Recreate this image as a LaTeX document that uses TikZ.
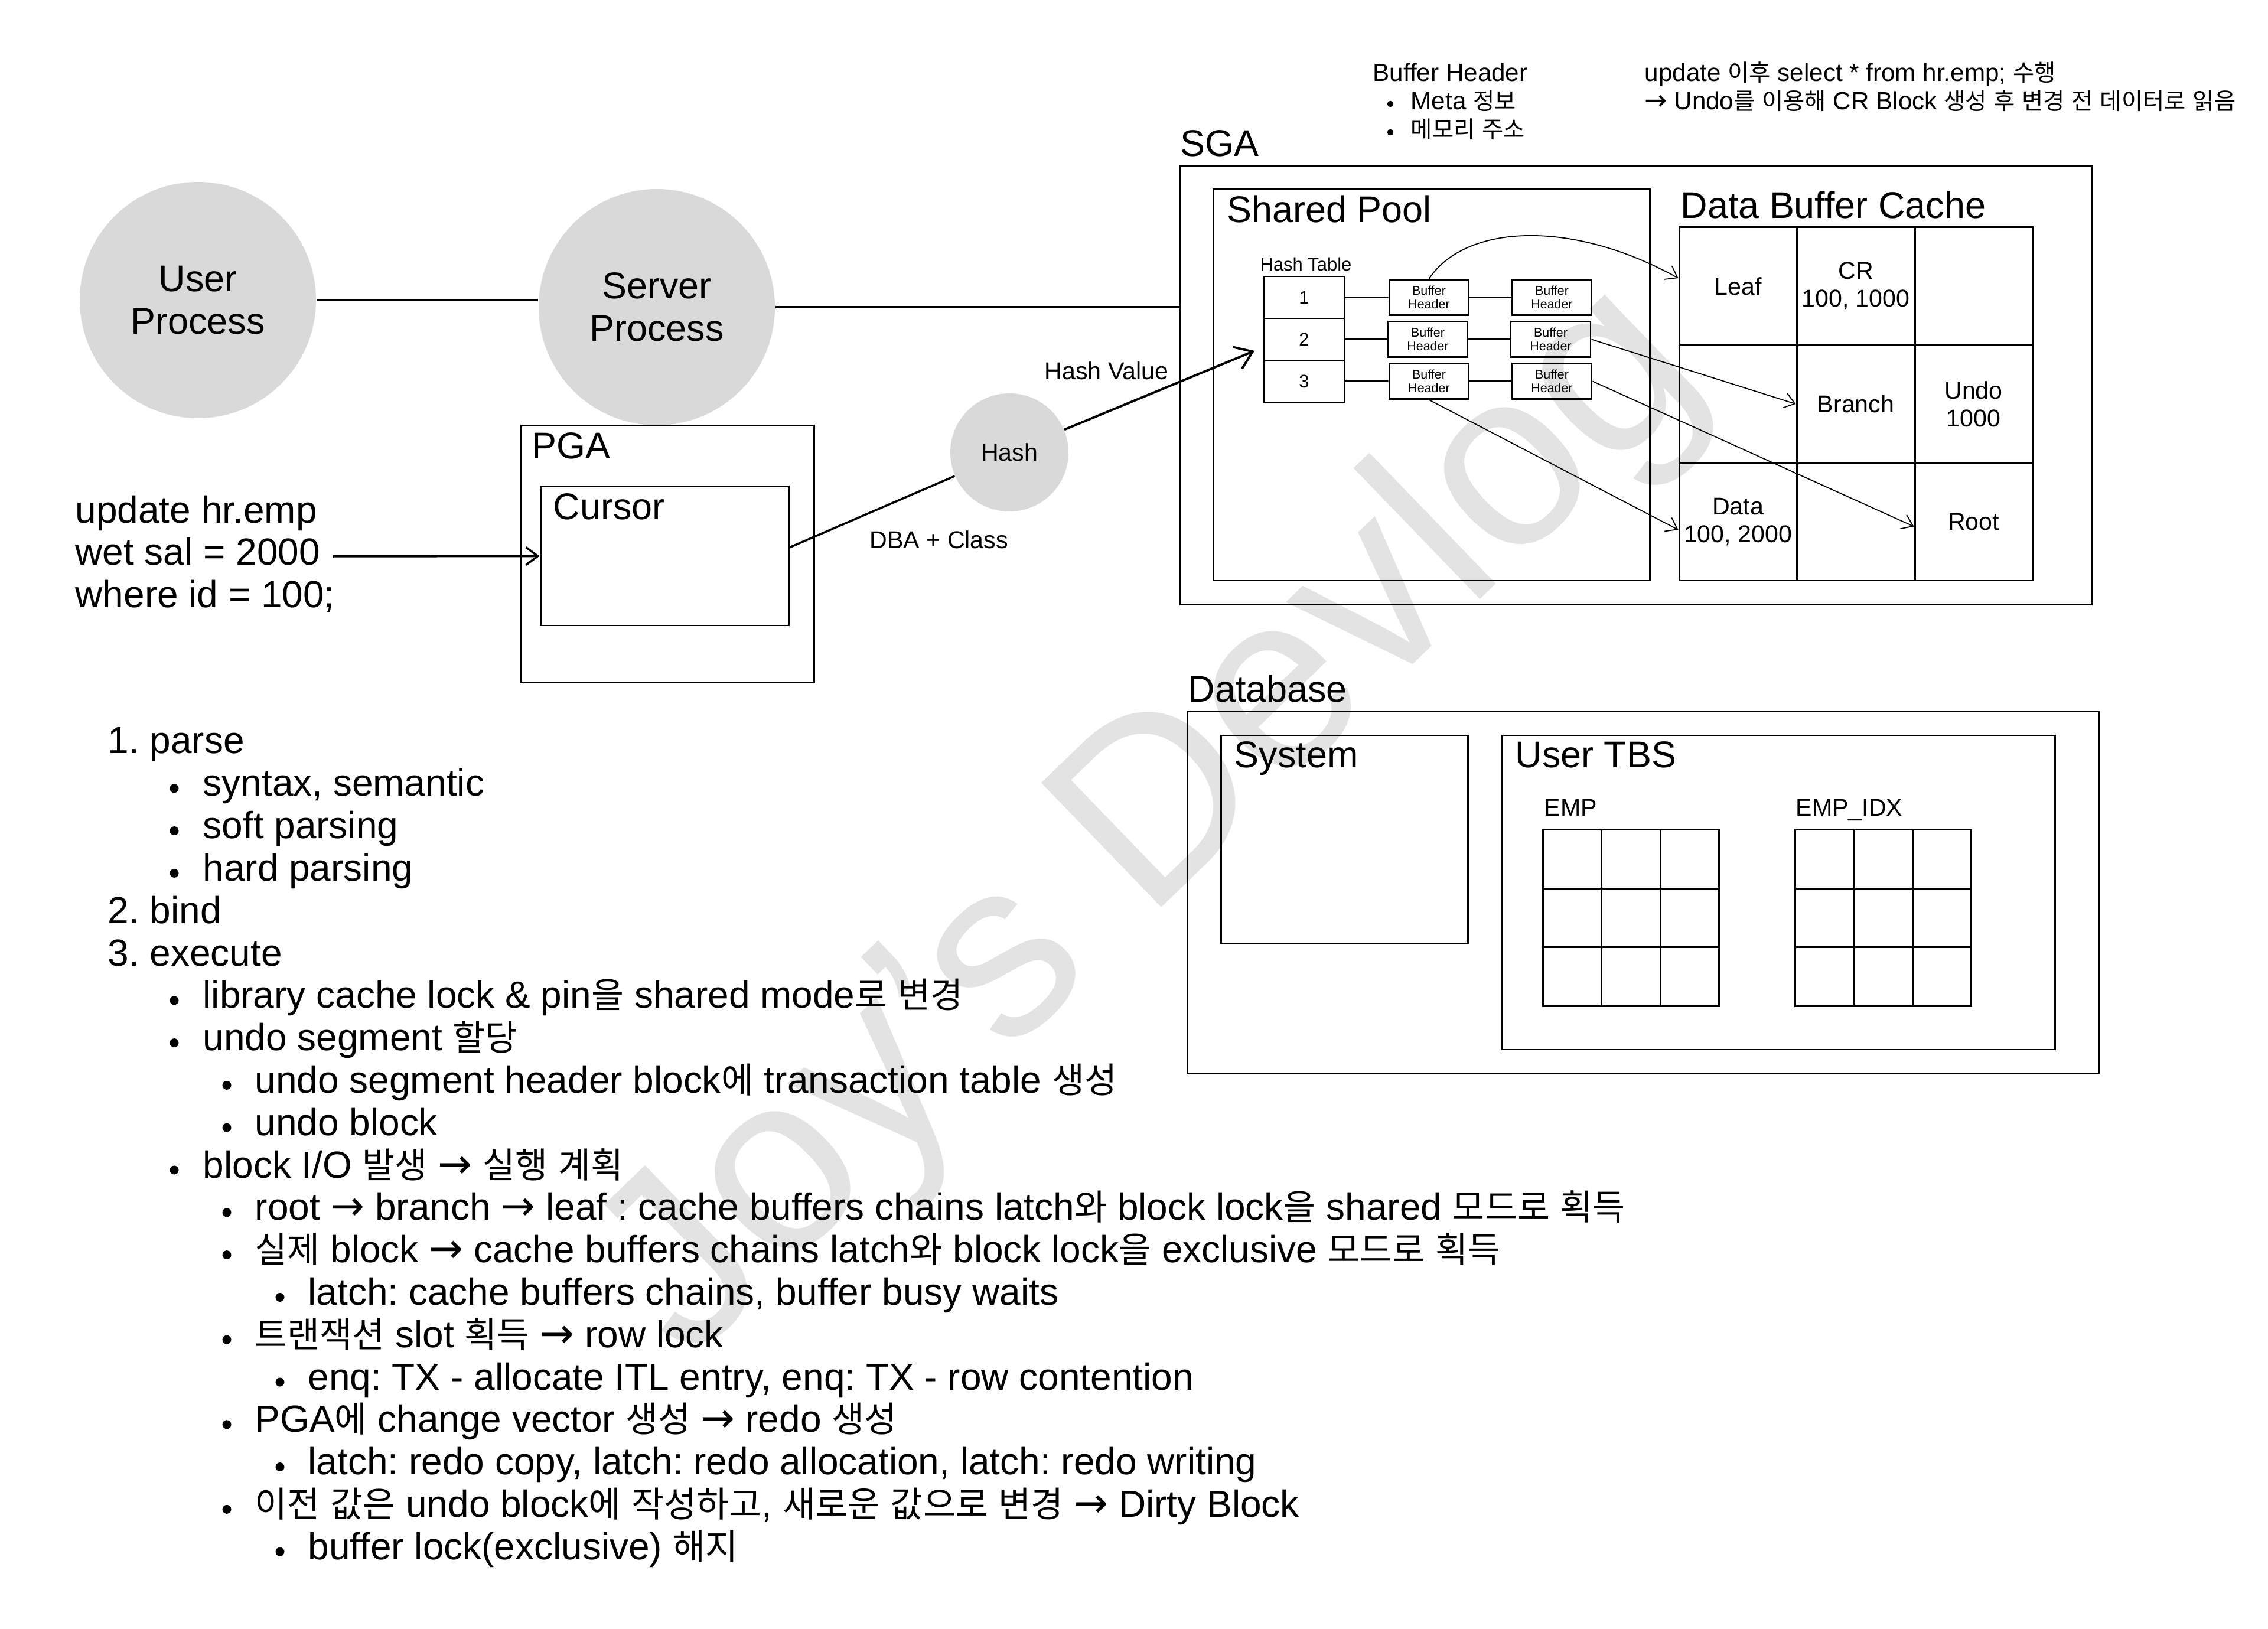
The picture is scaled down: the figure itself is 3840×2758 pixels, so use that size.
\documentclass[tikz,border=0pt]{standalone}
\usepackage{fontspec}
\setmainfont{Liberation Sans}
\newfontfamily\latinfont{Liberation Sans}
\newfontfamily\krfont{Noto Sans CJK KR}[Scale=0.935]
\newfontfamily\arrfont{DejaVu Sans}[Scale=1.08]
\usetikzlibrary{fit,arrows.meta}
\XeTeXinterchartokenstate=1
\newXeTeXintercharclass\KRclass
\newXeTeXintercharclass\ARclass
\count255="AC00
\loop
  \XeTeXcharclass\count255=\KRclass
  \ifnum\count255<"D7A3
  \advance\count255 by 1
\repeat
\XeTeXcharclass"2192=\ARclass
\XeTeXinterchartoks 0 \KRclass = {\krfont}
\XeTeXinterchartoks 4095 \KRclass = {\krfont}
\XeTeXinterchartoks \KRclass 0 = {\latinfont}
\XeTeXinterchartoks \KRclass 4095 = {\latinfont}
\XeTeXinterchartoks 0 \ARclass = {\arrfont}
\XeTeXinterchartoks 4095 \ARclass = {\arrfont}
\XeTeXinterchartoks \KRclass \ARclass = {\arrfont}
\XeTeXinterchartoks \ARclass \KRclass = {\krfont}
\XeTeXinterchartoks \ARclass 0 = {\latinfont}
\XeTeXinterchartoks \ARclass 4095 = {\latinfont}
\definecolor{procgray}{HTML}{D9D9D9}
\definecolor{wmgray}{HTML}{E3E3E3}
\newcommand\ListNum[2]{\node[listtxt,anchor=base west] (li#1) at (182,{1276+71.8*#1}) {#2};}
\newcommand\ListA[2]{\node[bul] (bu#1) at (295,{1263+71.8*#1}) {};\node[listtxt,anchor=base west] (li#1) at (343,{1276+71.8*#1}) {#2};}
\newcommand\ListB[2]{\node[bul] (bu#1) at (384,{1263+71.8*#1}) {};\node[listtxt,anchor=base west] (li#1) at (431,{1276+71.8*#1}) {#2};}
\newcommand\ListC[2]{\node[bul] (bu#1) at (474,{1263+71.8*#1}) {};\node[listtxt,anchor=base west] (li#1) at (521,{1276+71.8*#1}) {#2};}
\begin{document}
\frenchspacing
\begin{tikzpicture}[x=0.1mm, y=-0.1mm,
  box/.style={draw, line width=0.85pt, inner sep=0pt},
  cellbox/.style={draw, line width=0.85pt, inner sep=0pt},
  celltxt/.style={font=\fontsize{11.7pt}{13.4pt}\selectfont, align=center, inner sep=0pt},
  bhbox/.style={draw, line width=0.8pt, inner sep=0pt},
  bhtxt/.style={font=\fontsize{6.1pt}{6.6pt}\selectfont, align=center, inner sep=0pt},
  htbox/.style={draw, line width=0.8pt, inner sep=0pt},
  big/.style={font=\fontsize{17.9pt}{20.5pt}\selectfont, inner sep=0pt},
  listtxt/.style={font=\fontsize{18.2pt}{20.5pt}\selectfont, inner sep=0pt},
  small/.style={font=\fontsize{11.7pt}{13.7pt}\selectfont, inner sep=0pt},
  notetxt/.style={font=\fontsize{12pt}{13.7pt}\selectfont, inner sep=0pt},
  httxt/.style={font=\fontsize{8.8pt}{10pt}\selectfont, inner sep=0pt},
  proc/.style={circle, fill=procgray, minimum size=40mm, inner sep=0pt, align=center, font=\fontsize{17.9pt}{20.5pt}\selectfont},
  conn/.style={line width=1pt},
  thinarrow/.style={-{Straight Barb[length=1.8mm,width=2.6mm]}, line width=0.5pt},
  bul/.style={circle, fill=black, inner sep=0pt, minimum size=1.5mm},
  sbul/.style={circle, fill=black, inner sep=0pt, minimum size=1.05mm},
]
\useasboundingbox (0,0) rectangle (3840,2758);
\fill[white] (0,0) rectangle (3840,2758);
% watermark
\node[rotate=44, anchor=base, text=wmgray, font=\fontsize{121pt}{130pt}\selectfont, inner sep=0pt] (wm) at (2030,1475) {Joy's Devlog};

% processes
\node[proc] (user) at (335,508) {User\\Process};
\node[proc] (server) at (1112,520) {Server\\Process};
\draw[conn] (user.east) -- (user.east -| server.west);

% PGA
\node[box, fit={(882,721) (1378,1155)}] (pga) {};
\node[big, anchor=base west] (pgal) at (900,777) {PGA};
\node[box, fit={(915,824) (1335,1059)}] (cursor) {};
\node[big, anchor=base west] (cursorl) at (936,880) {Cursor};

% SQL
\node[listtxt, anchor=base west] (sql1) at (127,886) {update hr.emp};
\node[listtxt, anchor=base west] (sql2) at (127,957) {wet sal = 2000};
\node[listtxt, anchor=base west] (sql3) at (127,1029) {where id = 100;};
\coordinate (sqlstart) at (564,942);
\draw[conn, -{Straight Barb[length=2mm,width=3mm]}] (sqlstart) -- (cursor.west);

% Hash
\node[circle, fill=procgray, minimum size=20mm, inner sep=0pt, font=\fontsize{11.7pt}{13.7pt}\selectfont] (hash) at (1709,766) {Hash};
\draw[conn] ([yshift=1.45mm]cursor.east) -- (hash);
\coordinate (hv) at (2124,594);
\draw[line width=1.1pt, -{Straight Barb[length=2.8mm,width=4mm]}] (hash) -- (hv);
\node[small, anchor=base west] (hvl) at (1768,643) {Hash Value};
\node[small, anchor=base west] (dbal) at (1472,929) {DBA + Class};

% top notes
\node[notetxt, anchor=base west] (bhn) at (2324,138) {Buffer Header};
\node[sbul] (bhb1) at (2354,176) {};
\node[notetxt, anchor=base west] (bht1) at (2388,186) {Meta 정보};
\node[sbul] (bhb2) at (2354,224) {};
\node[notetxt, anchor=base west] (bht2) at (2388,234) {메모리 주소};
\node[notetxt, anchor=base west] (note1) at (2784,138) {update 이후 select * from hr.emp; 수행};
\node[notetxt, anchor=base west] (note2) at (2784,186) {→ Undo를 이용해 CR Block 생성 후 변경 전 데이터로 읽음};

% SGA
\node[box, fit={(1998,282) (3541,1024)}] (sga) {};
\node[big, anchor=base west] (sgal) at (1998,265) {SGA};
\draw[conn] (server.east) -- (server.east -| sga.west);
\node[box, fit={(2054,321) (2793,983)}] (spool) {};
\node[big, anchor=base west] (spooll) at (2077,377) {Shared Pool};
\node[big, anchor=base west] (dbcl) at (2845,370) {Data Buffer Cache};

% hash table
\node[httxt, anchor=base west] (htl) at (2133,459) {Hash Table};
\node[htbox, fit={(2140,468) (2276,539)}] (ht1) {};
\node[htbox, fit={(2140,539) (2276,610)}] (ht2) {};
\node[htbox, fit={(2140,610) (2276,681)}] (ht3) {};
\node[httxt] (ht1t) at (ht1.center) {1};
\node[httxt] (ht2t) at (ht2.center) {2};
\node[httxt] (ht3t) at (ht3.center) {3};
\node[bhbox, fit={(2352,473.5) (2487,533.5)}] (bh11) {};
\node[bhbox, fit={(2560,473.5) (2695,533.5)}] (bh12) {};
\node[bhbox, fit={(2350,544.5) (2485,604.5)}] (bh21) {};
\node[bhbox, fit={(2558,544.5) (2693,604.5)}] (bh22) {};
\node[bhbox, fit={(2352,615.5) (2487,675.5)}] (bh31) {};
\node[bhbox, fit={(2560,615.5) (2695,675.5)}] (bh32) {};
\foreach \b in {bh11,bh12,bh21,bh22,bh31,bh32}{
  \node[bhtxt] (\b t) at (\b.center) {Buffer\\Header};
}
\draw[line width=0.8pt] (ht1.east) -- (bh11.west);
\draw[line width=0.8pt] (bh11.east) -- (bh12.west);
\draw[line width=0.8pt] (ht2.east) -- (bh21.west);
\draw[line width=0.8pt] (bh21.east) -- (bh22.west);
\draw[line width=0.8pt] (ht3.east) -- (bh31.west);
\draw[line width=0.8pt] (bh31.east) -- (bh32.west);

% data buffer cache grid
\node[cellbox, fit={(2843,385) (3042,584)}] (leaf) {};
\node[cellbox, fit={(3042,385) (3242,584)}] (cr) {};
\node[cellbox, fit={(3242,385) (3441,584)}] (c13) {};
\node[cellbox, fit={(2843,584) (3042,784)}] (c21) {};
\node[cellbox, fit={(3042,584) (3242,784)}] (branch) {};
\node[cellbox, fit={(3242,584) (3441,784)}] (undo) {};
\node[cellbox, fit={(2843,784) (3042,983)}] (data) {};
\node[cellbox, fit={(3042,784) (3242,983)}] (c32) {};
\node[cellbox, fit={(3242,784) (3441,983)}] (root) {};
\node[celltxt] (leaft) at (leaf.center) {Leaf};
\node[celltxt] (crt) at (cr.center) {CR\\100, 1000};
\node[celltxt] (brancht) at (branch.center) {Branch};
\node[celltxt] (undot) at (undo.center) {Undo\\1000};
\node[celltxt] (datat) at (data.center) {Data\\100, 2000};
\node[celltxt] (roott) at (root.center) {Root};

% pointers
\draw[thinarrow] (bh11.north) .. controls (2480,380) and (2660,370) .. ([yshift=1.35mm]leaf.west);
\draw[thinarrow] (bh22.east) -- (branch.west);
\draw[thinarrow] (bh32.east) -- ([yshift=-0.8mm]root.west);
\draw[thinarrow] (bh31.south) -- ([yshift=-1.35mm]data.west);

% Database
\node[box, fit={(2010,1205) (3553,1817)}] (db) {};
\node[big, anchor=base west] (dbl) at (2011,1189) {Database};
\node[box, fit={(2067,1245) (2485,1597)}] (sys) {};
\node[big, anchor=base west] (sysl) at (2089,1300) {System};
\node[box, fit={(2543,1245) (3479,1777)}] (utbs) {};
\node[big, anchor=base west] (utbsl) at (2565,1300) {User TBS};
\node[small, anchor=base west] (empl) at (2614,1382) {EMP};
\node[small, anchor=base west] (empidxl) at (3040,1382) {EMP\_IDX};
\foreach \gx in {2612,3039}{
  \foreach \i in {0,1,2}{
    \foreach \j in {0,1,2}{
      \draw[line width=0.85pt] ({\gx+99.6*\i},{1405+99.4*\j}) rectangle ++(99.6,99.4);
    }
  }
}

% list
\ListNum{0}{1. parse}
\ListA{1}{syntax, semantic}
\ListA{2}{soft parsing}
\ListA{3}{hard parsing}
\ListNum{4}{2. bind}
\ListNum{5}{3. execute}
\ListA{6}{library cache lock \& pin을 shared mode로 변경}
\ListA{7}{undo segment 할당}
\ListB{8}{undo segment header block에 transaction table 생성}
\ListB{9}{undo block}
\ListA{10}{block I/O 발생 → 실행 계획}
\ListB{11}{root → branch → leaf : cache buffers chains latch와 block lock을 shared 모드로 획득}
\ListB{12}{실제 block → cache buffers chains latch와 block lock을 exclusive 모드로 획득}
\ListC{13}{latch: cache buffers chains, buffer busy waits}
\ListB{14}{트랜잭션 slot 획득 → row lock}
\ListC{15}{enq: TX - allocate ITL entry, enq: TX - row contention}
\ListB{16}{PGA에 change vector 생성 → redo 생성}
\ListC{17}{latch: redo copy, latch: redo allocation, latch: redo writing}
\ListB{18}{이전 값은 undo block에 작성하고, 새로운 값으로 변경 → Dirty Block}
\ListC{19}{buffer lock(exclusive) 해지}
\end{tikzpicture}
\end{document}
